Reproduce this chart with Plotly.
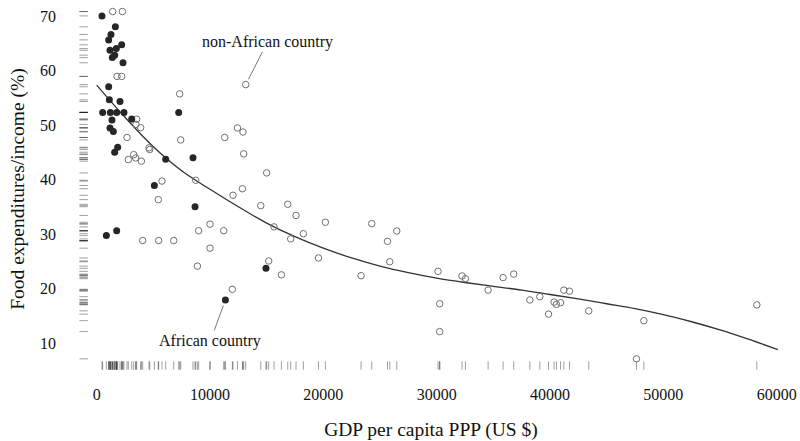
import plotly.graph_objects as go

# African countries (filled markers)
africa_gdp = [470, 1650, 1262, 1060, 2207, 1735, 1177, 1589, 1383, 2324,
              1060, 1118, 2060, 530, 1209, 1765, 2410, 3090, 1350, 1177,
              1474, 1854, 1589, 7237, 6090, 8500, 5090, 8680, 855, 1765,
              14940, 11360]
africa_food = [70.0, 68.0, 66.6, 65.6, 64.7, 64.0, 63.7, 62.8, 62.35, 61.4,
               57.0, 54.6, 54.3, 52.3, 52.3, 52.3, 52.3, 51.1, 50.9, 49.45,
               48.8, 45.9, 45.0, 52.3, 43.7, 44.0, 38.9, 35.0, 29.7, 30.6,
               23.7, 17.9]

# Non-African countries (open markers)
other_gdp = [1412, 2268, 1792, 2207, 7326, 13150, 3530, 3470, 3883, 2677,
             7414, 11300, 12420, 12910, 12970, 4680, 4620, 3266, 3440, 2794,
             3945, 5763, 8740, 12030, 12860, 5440, 4060, 5470, 6800, 9000,
             10000, 11210, 10000, 8890, 11970, 15000, 14480, 16860, 17590, 20180,
             24270, 26480, 25660, 15650, 17120, 18240, 19570, 15180, 16300, 23330,
             25860, 30120, 30270, 30270, 32240, 32540, 34540, 35860, 36800, 38220,
             39100, 39870, 40360, 40570, 40930, 41220, 41720, 43420, 48280, 47630,
             58250]
other_food = [70.8, 70.8, 58.9, 58.9, 55.7, 57.4, 51.05, 50.1, 49.5, 47.7,
              47.25, 47.7, 49.45, 48.7, 44.7, 45.5, 45.8, 44.55, 43.95, 43.65,
              43.35, 39.7, 39.85, 37.1, 38.3, 36.3, 28.8, 28.8, 28.8, 30.6,
              31.8, 30.6, 27.4, 24.1, 19.85, 41.2, 35.2, 35.45, 33.4, 32.15,
              31.9, 30.55, 28.65, 31.3, 29.1, 30.05, 25.6, 25.05, 22.5, 22.35,
              24.9, 23.15, 17.2, 12.1, 22.3, 21.8, 19.7, 22.0, 22.65, 17.9,
              18.5, 15.3, 17.5, 17.1, 17.4, 19.7, 19.5, 15.9, 14.1, 7.1,
              17.0]

# Smooth fitted curve
curve_gdp = [0, 2500, 5000, 7500, 10000, 12500, 15000, 17500, 20000, 22500,
             25000, 27500, 30000, 32500, 35000, 37500, 40000, 42500, 45000,
             47500, 50000, 52500, 55000, 57500, 60100]
curve_food = [57.3, 51.4, 46.0, 41.6, 38.2, 35.0, 32.0, 29.5, 27.4, 25.6,
              24.1, 22.9, 21.9, 21.1, 20.4, 19.7, 18.9, 18.1, 17.2,
              16.3, 15.2, 13.9, 12.4, 10.7, 8.8]

x_ticks = [0, 10000, 20000, 30000, 40000, 50000, 60000]
y_ticks = [10, 20, 30, 40, 50, 60, 70]

X_RANGE = [-2000, 61000]
Y_RANGE = [4.5, 72]
RUG_X_POS = -1150   # x position of the y rug
RUG_Y_POS = 5.87    # y position of the x rug

all_gdp = africa_gdp + other_gdp
all_food = africa_food + other_food

FONT = "Liberation Serif, Times New Roman, serif"
rug_color = "rgba(0,0,0,0.38)"

fig = go.Figure()

# rugs
fig.add_trace(go.Scatter(
    x=all_gdp, y=[RUG_Y_POS] * len(all_gdp), mode="markers",
    marker=dict(symbol="line-ns", size=6, color=rug_color, line=dict(color=rug_color, width=1)),
    hoverinfo="skip", showlegend=False))
fig.add_trace(go.Scatter(
    x=[RUG_X_POS] * len(all_food), y=all_food, mode="markers",
    marker=dict(symbol="line-ew", size=6, color=rug_color, line=dict(color=rug_color, width=1)),
    hoverinfo="skip", showlegend=False))

# curve
fig.add_trace(go.Scatter(
    x=curve_gdp, y=curve_food, mode="lines", line=dict(color="#333333", width=1.3, shape="spline"),
    hoverinfo="skip", showlegend=False))

# points
fig.add_trace(go.Scatter(
    x=other_gdp, y=other_food, mode="markers", name="non-African country",
    marker=dict(symbol="circle-open", size=6.5, color="#707070", line=dict(width=1)),
    showlegend=False))
fig.add_trace(go.Scatter(
    x=africa_gdp, y=africa_food, mode="markers", name="African country",
    marker=dict(symbol="circle", size=7, color="#262626", line=dict(width=0)),
    showlegend=False))

# labelled examples
na_idx = 5
af_idx = len(africa_gdp) - 1
fig.add_annotation(x=other_gdp[na_idx], y=other_food[na_idx], text="non-African country",
                   showarrow=True, arrowhead=0, arrowwidth=0.8, arrowcolor="#555555",
                   ax=22, ay=-43, standoff=6, font=dict(family=FONT, size=16, color="#111111"))
fig.add_annotation(x=africa_gdp[af_idx], y=africa_food[af_idx], text="African country",
                   showarrow=True, arrowhead=0, arrowwidth=0.8, arrowcolor="#555555",
                   ax=-15, ay=41, standoff=6, font=dict(family=FONT, size=16, color="#111111"))

fig.update_layout(
    width=800, height=441,
    margin=dict(l=74, r=12, t=5, b=68),
    paper_bgcolor="white", plot_bgcolor="white",
    font=dict(family=FONT, size=16, color="#111111"),
    xaxis=dict(range=X_RANGE, tickvals=x_ticks, ticktext=[str(v) for v in x_ticks],
               showgrid=False, zeroline=False, showline=False, ticks="",
               automargin=False, ticklabelstandoff=10,
               title=dict(text="GDP per capita PPP (US $)", standoff=21,
                          font=dict(family=FONT, size=19.5))),
    yaxis=dict(range=Y_RANGE, tickvals=y_ticks, ticktext=[str(v) for v in y_ticks],
               showgrid=False, zeroline=False, showline=False, ticks="",
               automargin=False, ticklabelstandoff=17,
               title=dict(text="Food expenditures/income (%)", standoff=10,
                          font=dict(family=FONT, size=19.5))),
)

fig.write_html("out.html", config={"displayModeBar": False},
               post_script="document.body.style.margin='0px';")
